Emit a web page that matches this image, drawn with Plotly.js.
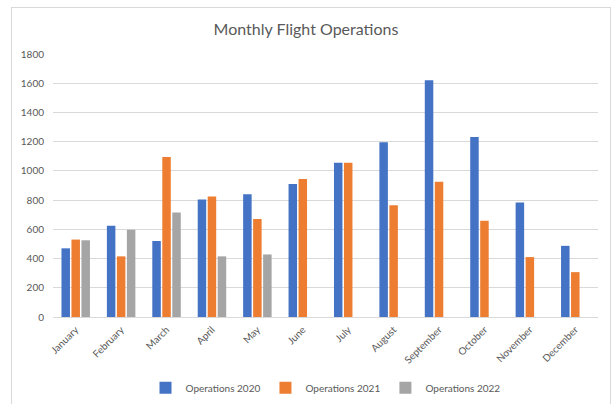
<!DOCTYPE html>
<html><head><meta charset="utf-8">
<script src="https://cdn.plot.ly/plotly-3.0.1.min.js"></script>
<style>
html,body{margin:0;padding:0;background:#fff;}
#chart{width:612px;height:404px;}
#frame{position:absolute;left:11px;top:7px;width:598px;height:420px;border:1px solid #d9d9d9;pointer-events:none;}
</style></head>
<body>
<div id="chart"></div>
<div id="frame"></div>
<script>
const months = ["January","February","March","April","May","June","July","August","September","October","November","December"];
const ops2020 = [470, 625, 520, 805, 840, 910, 1055, 1196, 1620, 1232, 783, 487];
const ops2021 = [530, 415, 1095, 825, 670, 945, 1055, 765, 925, 658, 410, 307];
const ops2022 = [525, 598, 715, 415, 428, null, null, null, null, null, null, null];
const seriesNames = ["Operations 2020","Operations 2021","Operations 2022"];
const colors = ["#4472c4","#ed7d31","#a5a5a5"];

const data = [ops2020, ops2021, ops2022].map((v,i)=>({
  type:'bar', x:months, y:v, name:seriesNames[i],
  marker:{color:colors[i], line:{width:0}}
}));

const layout = {
  width:612, height:404,
  margin:{l:53, r:14, t:54, b:87, autoexpand:false},
  paper_bgcolor:'#fff', plot_bgcolor:'#fff',
  font:{family:'Lato, "Open Sans", sans-serif', color:'#595959', size:10},
  title:{text:'Monthly Flight Operations', x:0.5, xanchor:'center', y:0.928, yanchor:'middle',
         font:{size:16, color:'#595959', family:'Lato, "Open Sans", sans-serif'}},
  barmode:'group', bargap:0.34, bargroupgap:0.15,
  xaxis:{tickangle:-45, showgrid:false, showline:true, linecolor:'#d9d9d9', linewidth:1,
         ticks:'', tickfont:{size:10, color:'#595959'}, automargin:false, ticklabelstandoff:2},
  yaxis:{range:[0,1800], dtick:200, showgrid:true, gridcolor:'#d9d9d9', gridwidth:1,
         zeroline:false, showline:false, ticks:'', ticklen:0, tickfont:{size:10, color:'#595959'},
         ticklabelstandoff:8, automargin:false},
  showlegend:true,
  legend:{orientation:'h', x:0.5, xanchor:'center', yref:'container', y:0.04, yanchor:'middle',
          font:{size:10, color:'#595959'}, itemwidth:30, tracegroupgap:0}
};
Plotly.newPlot('chart', data, layout, {displayModeBar:false, staticPlot:true});
</script>
</body></html>
